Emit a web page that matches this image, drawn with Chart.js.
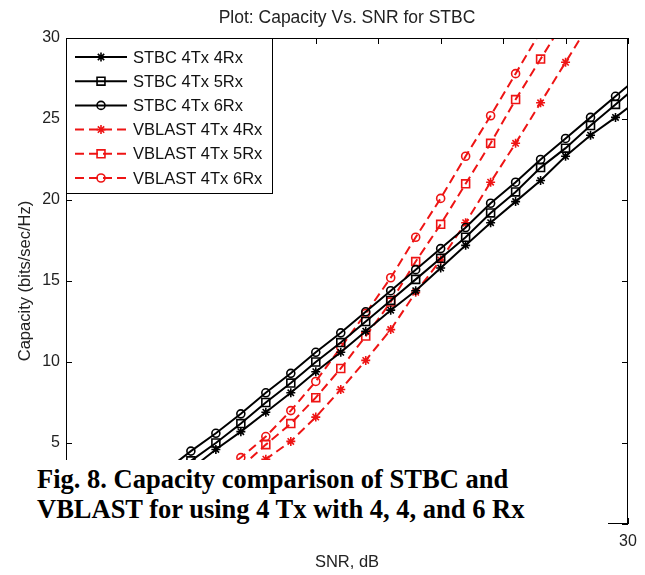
<!DOCTYPE html>
<html>
<head>
<meta charset="utf-8">
<script src="https://cdn.jsdelivr.net/npm/chart.js"></script>
<style>
  html, body { margin: 0; padding: 0; background: #fff; }
  #wrap { position: relative; width: 645px; height: 575px; }
  #caption {
    position: absolute; left: 0; top: 460px; width: 608px; height: 90px;
    background: #fff; box-sizing: border-box; padding: 5px 0 0 37px;
    font-family: "Liberation Serif", "Times New Roman", serif; font-weight: bold;
    font-size: 26.5px; line-height: 29.5px; color: #000; white-space: nowrap;
  }
</style>
</head>
<body>
<div id="wrap">
  <canvas id="chart" width="645" height="575"></canvas>
  <div id="caption">Fig. 8. Capacity comparison of STBC and<br>VBLAST for using 4 Tx with 4, 4, and 6 Rx</div>
</div>
<script>
// SNR (dB) at each marker
const snrDb = [-9, -7, -5, -3, -1, 1, 3, 5, 7, 9, 11, 13, 15, 17, 19, 21, 23, 25, 27, 29, 31];

// capacity (bits/sec/Hz)
const stbc4Rx = [1.1, 2.2, 3.4, 4.6, 5.7, 6.9, 8.1, 9.4, 10.6, 11.9, 13.2, 14.4, 15.8, 17.2, 18.6, 19.9, 21.2, 22.7, 24.0, 25.1, 26.3];
const stbc5Rx = [1.7, 2.8, 3.9, 5.0, 6.2, 7.5, 8.7, 10.0, 11.2, 12.5, 13.8, 15.1, 16.4, 17.7, 19.2, 20.5, 22.0, 23.2, 24.6, 25.9, 27.2];
const stbc6Rx = [2.2, 3.3, 4.5, 5.6, 6.8, 8.1, 9.3, 10.6, 11.8, 13.1, 14.4, 15.7, 17.0, 18.3, 19.8, 21.1, 22.5, 23.8, 25.1, 26.4, 27.7];
const vblast4Rx = [0.2, 0.6, 1.0, 1.8, 2.9, 4.0, 5.1, 6.6, 8.3, 10.1, 12.0, 14.3, 16.3, 18.6, 21.1, 23.5, 26.0, 28.5, 31.0, null, null];
const vblast5Rx = [0.4, 0.9, 1.5, 2.4, 3.5, 4.9, 6.2, 7.8, 9.6, 11.6, 13.7, 16.2, 18.5, 21.0, 23.5, 26.2, 28.7, 31.2, null, null, null];
const vblast6Rx = [0.6, 1.2, 2.0, 3.0, 4.1, 5.4, 7.0, 8.8, 10.9, 13.0, 15.2, 17.7, 20.1, 22.7, 25.2, 27.8, 30.4, null, null, null, null];

const seriesLabels = ['STBC 4Tx 4Rx', 'STBC 4Tx 5Rx', 'STBC 4Tx 6Rx', 'VBLAST 4Tx 4Rx', 'VBLAST 4Tx 5Rx', 'VBLAST 4Tx 6Rx'];
const xTicks = { min: -15, max: 30, step: 5 };
const yTicks = { min: 0, max: 30, step: 5 };
const chartTitle = 'Plot: Capacity Vs. SNR for STBC';

const BLACK = '#000000';
const RED = '#ee1414';
const SANS = 'Arial, "Liberation Sans", sans-serif';

function makeSeries(label, values, color, dashed, style, radius) {
  return {
    label: label,
    data: snrDb.map((x, i) => ({ x: x, y: values[i] })),
    borderColor: color,
    borderWidth: 2,
    borderDash: dashed ? [9, 5] : [],
    pointStyle: style,
    pointRadius: radius,
    pointBorderColor: color,
    pointBackgroundColor: 'rgba(0,0,0,0)',
    pointBorderWidth: 1.6,
    tension: 0,
    fill: false
  };
}

// MATLAB-like box with inward ticks, title centred over the axes
const matlabFrame = {
  id: 'matlabFrame',
  afterDatasetsDraw(chart) {
    const { ctx, chartArea: a, scales: { x, y } } = chart;
    ctx.save();
    ctx.strokeStyle = '#000';
    ctx.lineWidth = 1;
    ctx.setLineDash([]);
    ctx.strokeRect(a.left + 0.5, a.top + 0.5, a.right - a.left - 1, a.bottom - a.top - 1);
    ctx.beginPath();
    x.ticks.forEach(t => {
      const px = Math.round(x.getPixelForValue(t.value)) + 0.5;
      ctx.moveTo(px, a.top); ctx.lineTo(px, a.top + 6);
      ctx.moveTo(px, a.bottom); ctx.lineTo(px, a.bottom - 6);
    });
    y.ticks.forEach(t => {
      const py = Math.round(y.getPixelForValue(t.value)) + 0.5;
      ctx.moveTo(a.left, py); ctx.lineTo(a.left + 6, py);
      ctx.moveTo(a.right, py); ctx.lineTo(a.right - 6, py);
    });
    ctx.stroke();

    ctx.fillStyle = '#222';
    ctx.font = '17.5px ' + SANS;
    ctx.textAlign = 'center';
    ctx.textBaseline = 'middle';
    ctx.fillText(chartTitle, (a.left + a.right) / 2, 18);
    ctx.restore();
  }
};

// legend box in the top-left corner, lines with markers
const matlabLegend = {
  id: 'matlabLegend',
  afterDraw(chart) {
    const { ctx, chartArea: a } = chart;
    const left = a.left, top = a.top, w = 207, h = 156;
    ctx.save();
    ctx.fillStyle = '#fff';
    ctx.fillRect(left, top, w, h);
    ctx.strokeStyle = '#000';
    ctx.lineWidth = 1;
    ctx.strokeRect(left + 0.5, top + 0.5, w - 1, h - 1);
    chart.data.datasets.forEach((ds, i) => {
      const yy = top + 19 + i * 24.2;
      ctx.strokeStyle = ds.borderColor;
      ctx.lineWidth = 2;
      ctx.setLineDash(ds.borderDash);
      ctx.beginPath();
      ctx.moveTo(left + 9, yy);
      ctx.lineTo(left + 61, yy);
      ctx.stroke();
      ctx.setLineDash([]);
      ctx.fillStyle = 'rgba(0,0,0,0)';
      ctx.lineWidth = ds.pointBorderWidth;
      Chart.helpers.drawPoint(ctx, {
        pointStyle: ds.pointStyle, radius: ds.pointRadius, rotation: 0, borderWidth: ds.pointBorderWidth
      }, left + 35, yy);
      ctx.fillStyle = '#111';
      ctx.font = '16.5px ' + SANS;
      ctx.textAlign = 'left';
      ctx.textBaseline = 'middle';
      ctx.fillText(ds.label, left + 67, yy + 1);
    });
    ctx.restore();
  }
};

const tickFont = { family: SANS, size: 16 };
const labelFont = { family: SANS, size: 16.5 };

new Chart(document.getElementById('chart').getContext('2d'), {
  type: 'line',
  data: {
    datasets: [
      makeSeries(seriesLabels[0], stbc4Rx, BLACK, false, 'star', 4.5),
      makeSeries(seriesLabels[1], stbc5Rx, BLACK, false, 'rect', 5.6),
      makeSeries(seriesLabels[2], stbc6Rx, BLACK, false, 'circle', 4),
      makeSeries(seriesLabels[3], vblast4Rx, RED, true, 'star', 4.5),
      makeSeries(seriesLabels[4], vblast5Rx, RED, true, 'rect', 5.6),
      makeSeries(seriesLabels[5], vblast6Rx, RED, true, 'circle', 4)
    ]
  },
  options: {
    responsive: false,
    animation: false,
    layout: { padding: { left: 0, right: 17, top: 38, bottom: 0 } },
    plugins: {
      legend: { display: false },
      tooltip: { enabled: false },
      title: { display: false }
    },
    scales: {
      x: {
        type: 'linear',
        min: xTicks.min,
        max: xTicks.max,
        ticks: { stepSize: xTicks.step, color: '#222', font: tickFont, padding: 8 },
        grid: { display: false, drawTicks: false },
        border: { display: false },
        title: { display: true, text: 'SNR, dB', color: '#222', font: labelFont, padding: { top: 0, bottom: 3 } },
        afterFit: s => { s.height = 51; }
      },
      y: {
        min: yTicks.min,
        max: yTicks.max,
        ticks: { stepSize: yTicks.step, color: '#222', font: tickFont, padding: 6 },
        grid: { display: false, drawTicks: false },
        border: { display: false },
        title: { display: true, text: 'Capacity (bits/sec/Hz)', color: '#222', font: labelFont, padding: { top: 16, bottom: 0 } },
        afterFit: s => { s.width = 66; }
      }
    }
  },
  plugins: [matlabFrame, matlabLegend]
});
</script>
</body>
</html>
